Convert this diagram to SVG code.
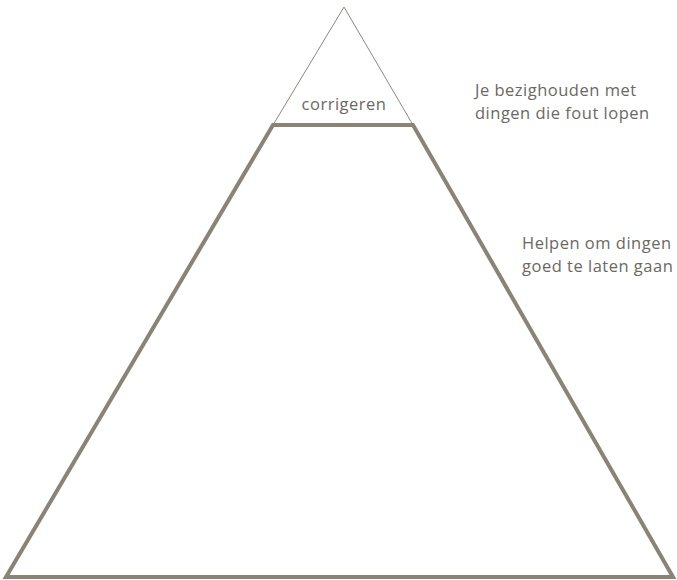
<svg xmlns="http://www.w3.org/2000/svg" width="677" height="580" viewBox="0 0 677 580">
<style>
.thin{fill:none;stroke:#8c8880;stroke-width:1}
.thick{fill:none;stroke:#8a8476;stroke-width:4;stroke-linejoin:miter}
.t{font-family:"Open Sans","Liberation Sans",sans-serif;font-size:16.5px;letter-spacing:0.5px;fill:#6c6862}
</style>
<rect width="677" height="580" fill="#fff"/>
<g id="top">
<polyline class="thin" points="273,125 344,7 413,125"/>
<text class="t" x="344" y="110" text-anchor="middle">corrigeren</text>
</g>
<g id="base">
<polygon class="thick" points="273,125 413,125 673,577 6,577"/>
</g>
<g id="label-top">
<text class="t" x="475" y="96">Je bezighouden met</text>
<text class="t" x="475" y="119">dingen die fout lopen</text>
</g>
<g id="label-base">
<text class="t" x="522" y="249">Helpen om dingen</text>
<text class="t" x="522" y="272">goed te laten gaan</text>
</g>
<g id="connectors"></g>
</svg>
